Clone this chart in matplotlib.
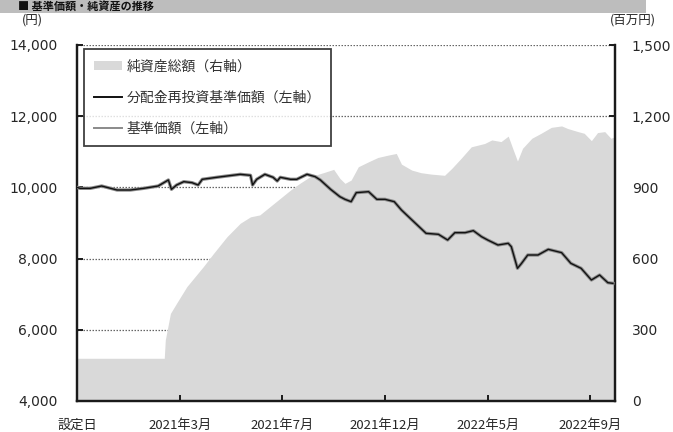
import matplotlib
matplotlib.use("Agg")
import matplotlib.pyplot as plt
from matplotlib.patches import Patch, Rectangle
from matplotlib.lines import Line2D

plt.rcParams['font.family'] = ['Noto Sans CJK JP', 'DejaVu Sans']

# ---- data (x = business-day index from inception) ----
tick_pos = [0, 100, 200, 300, 400, 500]
tick_labels = ["設定日", "2021年3月", "2021年7月", "2021年12月", "2022年5月", "2022年9月"]

left_ticks = [4000, 6000, 8000, 10000, 12000, 14000]
right_ticks = [0, 300, 600, 900, 1200, 1500]

asset_x = [0, 85, 86, 91, 97, 107, 115, 123, 133, 146, 159, 169, 178, 188, 198, 208, 217, 227, 240, 250,
           256, 261, 267, 274, 284, 293, 303, 311, 316, 326, 335, 345, 358, 365, 374, 384, 397, 404, 413, 420,
           425, 429, 434, 443, 452, 462, 472, 478, 488, 494, 501, 507, 514, 520, 524]
asset_v = [180, 180, 257, 369, 412, 482, 524, 566, 622, 692, 749, 776, 784, 819, 854, 889, 917, 945, 962, 976,
           938, 917, 931, 987, 1008, 1026, 1036, 1043, 998, 973, 962, 956, 951, 980, 1022, 1071, 1085, 1100, 1093, 1116,
           1057, 1011, 1065, 1107, 1128, 1153, 1159, 1148, 1135, 1128, 1097, 1131, 1135, 1107, 1114]

nav_x = [0, 3, 13, 24, 39, 52, 65, 79, 89, 92, 97, 104, 112, 118, 122, 136, 146, 159, 169, 171,
         175, 183, 191, 195, 198, 208, 214, 224, 232, 237, 247, 256, 261, 267, 272, 284, 292, 300, 309, 316,
         329, 340, 352, 361, 368, 378, 386, 394, 400, 410, 420, 423, 429, 433, 439, 449, 459, 472, 481, 491,
         501, 509, 517, 522]
nav_v = [10000, 9974, 9974, 10039, 9927, 9927, 9974, 10039, 10208, 9946, 10067, 10161, 10133, 10067, 10227, 10283, 10320, 10367, 10339, 10067,
         10227, 10367, 10283, 10180, 10283, 10227, 10227, 10367, 10301, 10208, 9946, 9740, 9665, 9599, 9852, 9880, 9665, 9665, 9599, 9365,
         9009, 8710, 8682, 8522, 8728, 8728, 8785, 8616, 8522, 8382, 8429, 8335, 7727, 7867, 8101, 8101, 8260, 8167, 7867, 7727,
         7399, 7539, 7324, 7305]
nav_reinv_v = list(nav_v)  # no distributions: identical

W, H = 673, 432
fig = plt.figure(figsize=(W / 100, H / 100), dpi=100)

# top title bar
fig.patches.append(Rectangle((0, 1 - 13 / H), 646 / W, 13 / H, transform=fig.transFigure,
                             facecolor='#bdbdbd', edgecolor='none'))
fig.text(18 / W, 1 - 6.5 / H, "■ 基準価額・純資産の推移", fontsize=8, fontweight='bold',
         va='center', ha='left', color='#111111')

ax = fig.add_axes([77 / W, 31 / H, 538 / W, 356 / H])
ax2 = ax.twinx()

GRAYA = '#d9d9d9'
ax2.fill_between(asset_x, asset_v, 0, color=GRAYA, lw=0, zorder=2)
ax2.set_ylim(0, 1500)
ax2.set_yticks(right_ticks)
ax2.set_yticklabels([f"{v:,}" for v in right_ticks])
ax2.set_axisbelow(True)
ax2.yaxis.grid(True, linestyle=(0, (1.2, 1.2)), color='#666666', lw=0.9, zorder=0)

ax.set_zorder(ax2.get_zorder() + 1)
ax.patch.set_visible(False)
ax.plot(nav_x, nav_v, color='#8a8a8a', lw=2.4, zorder=3)
ax.plot(nav_x, nav_reinv_v, color='#111111', lw=1.0, zorder=4)
ax.set_xlim(0, 524)
ax.set_ylim(4000, 14000)
ax.set_yticks(left_ticks)
ax.set_yticklabels([f"{v:,}" for v in left_ticks])
ax.set_xticks(tick_pos)
ax.set_xticklabels(tick_labels)

for a in (ax, ax2):
    a.spines['top'].set_visible(False)
    for s in ('left', 'right', 'bottom'):
        a.spines[s].set_linewidth(1.6)
        a.spines[s].set_color('#1a1a1a')

lab_col = '#262626'
ax.tick_params(axis='y', direction='in', length=4, width=1.4, pad=14, labelsize=10,
               labelcolor=lab_col, color='#1a1a1a')
ax.tick_params(axis='x', direction='in', length=4, width=1.4, pad=13, labelsize=9.5,
               labelcolor=lab_col, color='#1a1a1a')
ax2.tick_params(axis='y', direction='in', length=4, width=1.4, pad=12, labelsize=10,
                labelcolor=lab_col, color='#1a1a1a')
for lbl in ax.get_yticklabels() + ax2.get_yticklabels():
    lbl.set_fontfamily('DejaVu Sans')

fig.text(32 / W, 1 - 20 / H, "(円)", fontsize=9, ha='center', va='center', color=lab_col)
fig.text(633 / W, 1 - 20 / H, "(百万円)", fontsize=9, ha='center', va='center', color=lab_col)

handles = [Patch(facecolor=GRAYA, edgecolor='none'),
           Line2D([], [], color='#111111', lw=1.4),
           Line2D([], [], color='#8a8a8a', lw=1.4)]
labels = ["純資産総額（右軸）", "分配金再投資基準価額（左軸）", "基準価額（左軸）"]
leg = ax.legend(handles, labels, loc='upper left', bbox_to_anchor=(0.013, 0.989),
                borderaxespad=0, fontsize=10, frameon=True, fancybox=False,
                handlelength=2.0, handletextpad=0.3, labelspacing=1.25, borderpad=0.75)
leg.get_frame().set_edgecolor('#111111')
leg.get_frame().set_linewidth(1.3)
for t in leg.get_texts():
    t.set_color('#333333')

fig.savefig("out.png", dpi=100)
